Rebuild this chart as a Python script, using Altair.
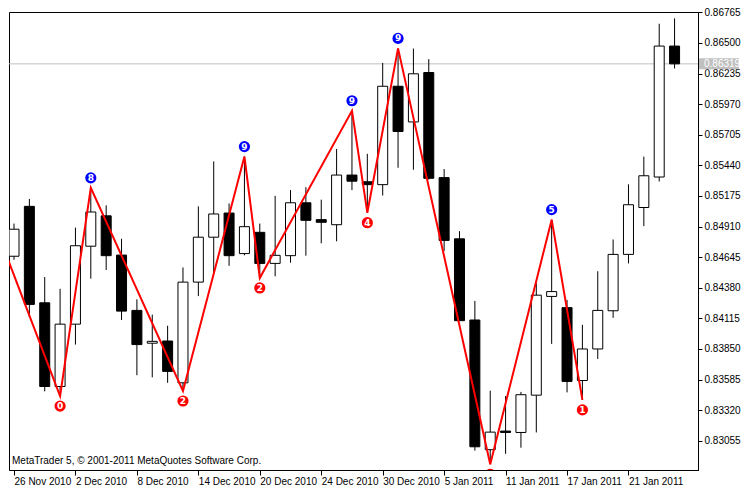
import altair as alt
import pandas as pd

# ---- daily candles ----
opens = [0.84653, 0.85085, 0.84250, 0.83525, 0.84065, 0.84740, 0.85003, 0.84663, 0.84184, 0.83900,
         0.83919, 0.83557, 0.84429, 0.84818, 0.85027, 0.84676, 0.84860, 0.84591, 0.84658, 0.85116,
         0.84970, 0.84926, 0.85356, 0.85298, 0.85273, 0.86125, 0.85816, 0.86244, 0.85334, 0.84804,
         0.84101, 0.82978, 0.83139, 0.83127, 0.83450, 0.84305, 0.84208, 0.83577, 0.83850, 0.84181,
         0.84669, 0.85075, 0.85339, 0.86473]
highs = [0.84936, 0.85149, 0.84473, 0.84371, 0.84901, 0.85245, 0.85094, 0.84804, 0.84280, 0.84148,
         0.84051, 0.84556, 0.85085, 0.85474, 0.85110, 0.85516, 0.84936, 0.85176, 0.85226, 0.85251,
         0.85143, 0.85582, 0.85913, 0.85540, 0.86327, 0.86453, 0.86451, 0.86360, 0.85408, 0.84870,
         0.84266, 0.83489, 0.83442, 0.83478, 0.84418, 0.84970, 0.84275, 0.84059, 0.84523, 0.84798,
         0.85276, 0.85516, 0.86666, 0.86713]
lows = [0.84622, 0.84126, 0.83483, 0.83442, 0.83888, 0.84459, 0.84534, 0.84101, 0.83623, 0.83604,
        0.83557, 0.83486, 0.84308, 0.84514, 0.84570, 0.84661, 0.84465, 0.84479, 0.84597, 0.84658,
        0.84765, 0.84782, 0.85226, 0.85030, 0.85179, 0.85419, 0.85402, 0.85317, 0.84699, 0.84093,
        0.82970, 0.82851, 0.82942, 0.82995, 0.83127, 0.83894, 0.83474, 0.83409, 0.83764, 0.84120,
        0.84591, 0.84914, 0.85300, 0.86279]
closes = [0.84887, 0.84236, 0.83525, 0.84065, 0.84744, 0.85036, 0.84658, 0.84178, 0.83888, 0.83916,
          0.83656, 0.84429, 0.84818, 0.85019, 0.84658, 0.84909, 0.84591, 0.84661, 0.85116, 0.84964,
          0.84947, 0.85356, 0.85303, 0.85273, 0.86125, 0.85733, 0.86233, 0.85328, 0.84790, 0.84095,
          0.83003, 0.83130, 0.83127, 0.83454, 0.84316, 0.84347, 0.83569, 0.83850, 0.84184, 0.84669,
          0.85099, 0.85350, 0.86473, 0.86319]

date_labels = ["26 Nov 2010", "2 Dec 2010", "8 Dec 2010", "14 Dec 2010", "20 Dec 2010",
               "24 Dec 2010", "30 Dec 2010", "5 Jan 2011", "11 Jan 2011", "17 Jan 2011",
               "21 Jan 2011"]
date_bars = [0, 4, 8, 12, 16, 20, 24, 28, 32, 36, 40]
price_ticks = [0.83055, 0.83320, 0.83585, 0.83850, 0.84115, 0.84380, 0.84645, 0.84910,
               0.85175, 0.85440, 0.85705, 0.85970, 0.86235, 0.86500, 0.86765]

# ---- ZigZag pivots ----
zz_bar = [-2, 3, 5, 11, 15, 16, 22, 23, 25, 31, 35, 37]
zz_price = [0.85186, 0.83442, 0.85245, 0.83486, 0.85516, 0.84465, 0.85913, 0.85030,
            0.86453, 0.82851, 0.84970, 0.83409]
zz_label = ["", "0", "8", "2", "9", "2", "9", "4", "9", "", "5", "1"]
zz_kind = ["high", "low", "high", "low", "high", "low", "high", "low", "high", "low", "high", "low"]

bid = 0.86319
copyright_text = "MetaTrader 5, \u00a9 2001-2011 MetaQuotes Software Corp."

W, H = 689, 458
XDOM = [0, 44.2]
YDOM = [0.82802, 0.86768]
FONT = "Liberation Sans"

candles = pd.DataFrame({"bar": list(range(len(opens))), "open": opens, "high": highs,
                        "low": lows, "close": closes})
zz = pd.DataFrame({"bar": zz_bar, "price": zz_price, "lab": zz_label, "kind": zz_kind})
bid_df = pd.DataFrame({"p": [bid], "t": [f"{bid:.5f}"]})
copy_df = pd.DataFrame({"t": [copyright_text]})

xs = alt.Scale(domain=XDOM, nice=False, zero=False)
ys = alt.Scale(domain=YDOM, nice=False, zero=False)

label_expr = "[" + ",".join(f"'{d}'" for d in date_labels) + "][round(datum.value/4)]"

x_axis = alt.Axis(values=date_bars, labelExpr=label_expr, title=None, grid=False,
                  tickSize=5, labelAlign="left", labelBaseline="top", labelPadding=1,
                  labelFlush=False, labelOverlap=False, domainColor="black", tickColor="black",
                  labelColor="black", labelFont=FONT, labelFontSize=10)
y_axis = alt.Axis(orient="right", values=price_ticks, format=".5f", title=None, grid=False,
                  tickSize=4, labelPadding=2, labelFlush=False, labelOverlap=False,
                  domainColor="black", tickColor="black", labelColor="black",
                  labelFont=FONT, labelFontSize=10)

X = lambda f: alt.X(f, scale=xs, axis=x_axis)
Y = lambda f: alt.Y(f, scale=ys, axis=y_axis)

base = alt.Chart(candles)
wicks = base.mark_rule(color="black", strokeWidth=1, clip=True).encode(
    x=X("bar:Q"), y=Y("low:Q"), y2="high:Q")
bid_rule = alt.Chart(bid_df).mark_rule(color="#c0c0c0", strokeWidth=1).encode(y=Y("p:Q"))
bodies = base.mark_bar(size=10, stroke="black", strokeWidth=1, clip=True).encode(
    x=X("bar:Q"),
    y=Y("open:Q"),
    y2="close:Q",
    fill=alt.condition("datum.close >= datum.open", alt.value("white"), alt.value("black")),
)

zz_line = alt.Chart(zz).mark_line(color="#ff0000", strokeWidth=2, clip=True).encode(
    x=X("bar:Q"), y=Y("price:Q"), order="bar:Q")

hi = alt.Chart(zz).transform_filter("datum.kind == 'high' && datum.bar >= 0")
lo = alt.Chart(zz).transform_filter("datum.kind == 'low' && datum.bar >= 0")
hi_dot = hi.mark_circle(size=125, color="#0000ff", opacity=1, yOffset=-10, clip=True).encode(
    x=X("bar:Q"), y=Y("price:Q"))
lo_dot = lo.mark_circle(size=125, color="#ff0000", opacity=1, yOffset=10, clip=True).encode(
    x=X("bar:Q"), y=Y("price:Q"))
hi_txt = hi.transform_filter("datum.lab != ''").mark_text(
    color="white", font="DejaVu Sans", fontSize=9, fontWeight="bold",
    dy=-10, baseline="middle", align="center", clip=True).encode(
    x=X("bar:Q"), y=Y("price:Q"), text="lab:N")
lo_txt = lo.transform_filter("datum.lab != ''").mark_text(
    color="white", font="DejaVu Sans", fontSize=9, fontWeight="bold",
    dy=10, baseline="middle", align="center", clip=True).encode(
    x=X("bar:Q"), y=Y("price:Q"), text="lab:N")

bid_box = alt.Chart(bid_df).mark_point(
    shape="M-2,-0.55H2V0.55H-2Z", size=400, filled=True, color="#c0c0c0", opacity=1
).encode(x=alt.value(W + 21), y=Y("p:Q"))
bid_txt = alt.Chart(bid_df).mark_text(
    color="white", font=FONT, fontSize=10, align="left", baseline="middle"
).encode(x=alt.value(W + 6), y=Y("p:Q"), text="t:N")

copy_txt = alt.Chart(copy_df).mark_text(
    color="black", font=FONT, fontSize=10, align="left", baseline="middle"
).encode(x=alt.value(3), y=alt.value(H - 9), text="t:N")

chart = alt.layer(
    bid_rule, wicks, bodies, zz_line, hi_dot, lo_dot, hi_txt, lo_txt, bid_box, bid_txt, copy_txt
).properties(
    width=W, height=H,
    padding={"left": 1, "top": 4, "right": 44, "bottom": 17},
    autosize=alt.AutoSizeParams(type="none"),
    background="white",
).configure_view(stroke="black", strokeWidth=1)

chart.save("out.html", embed_options={"renderer": "svg", "actions": False})
